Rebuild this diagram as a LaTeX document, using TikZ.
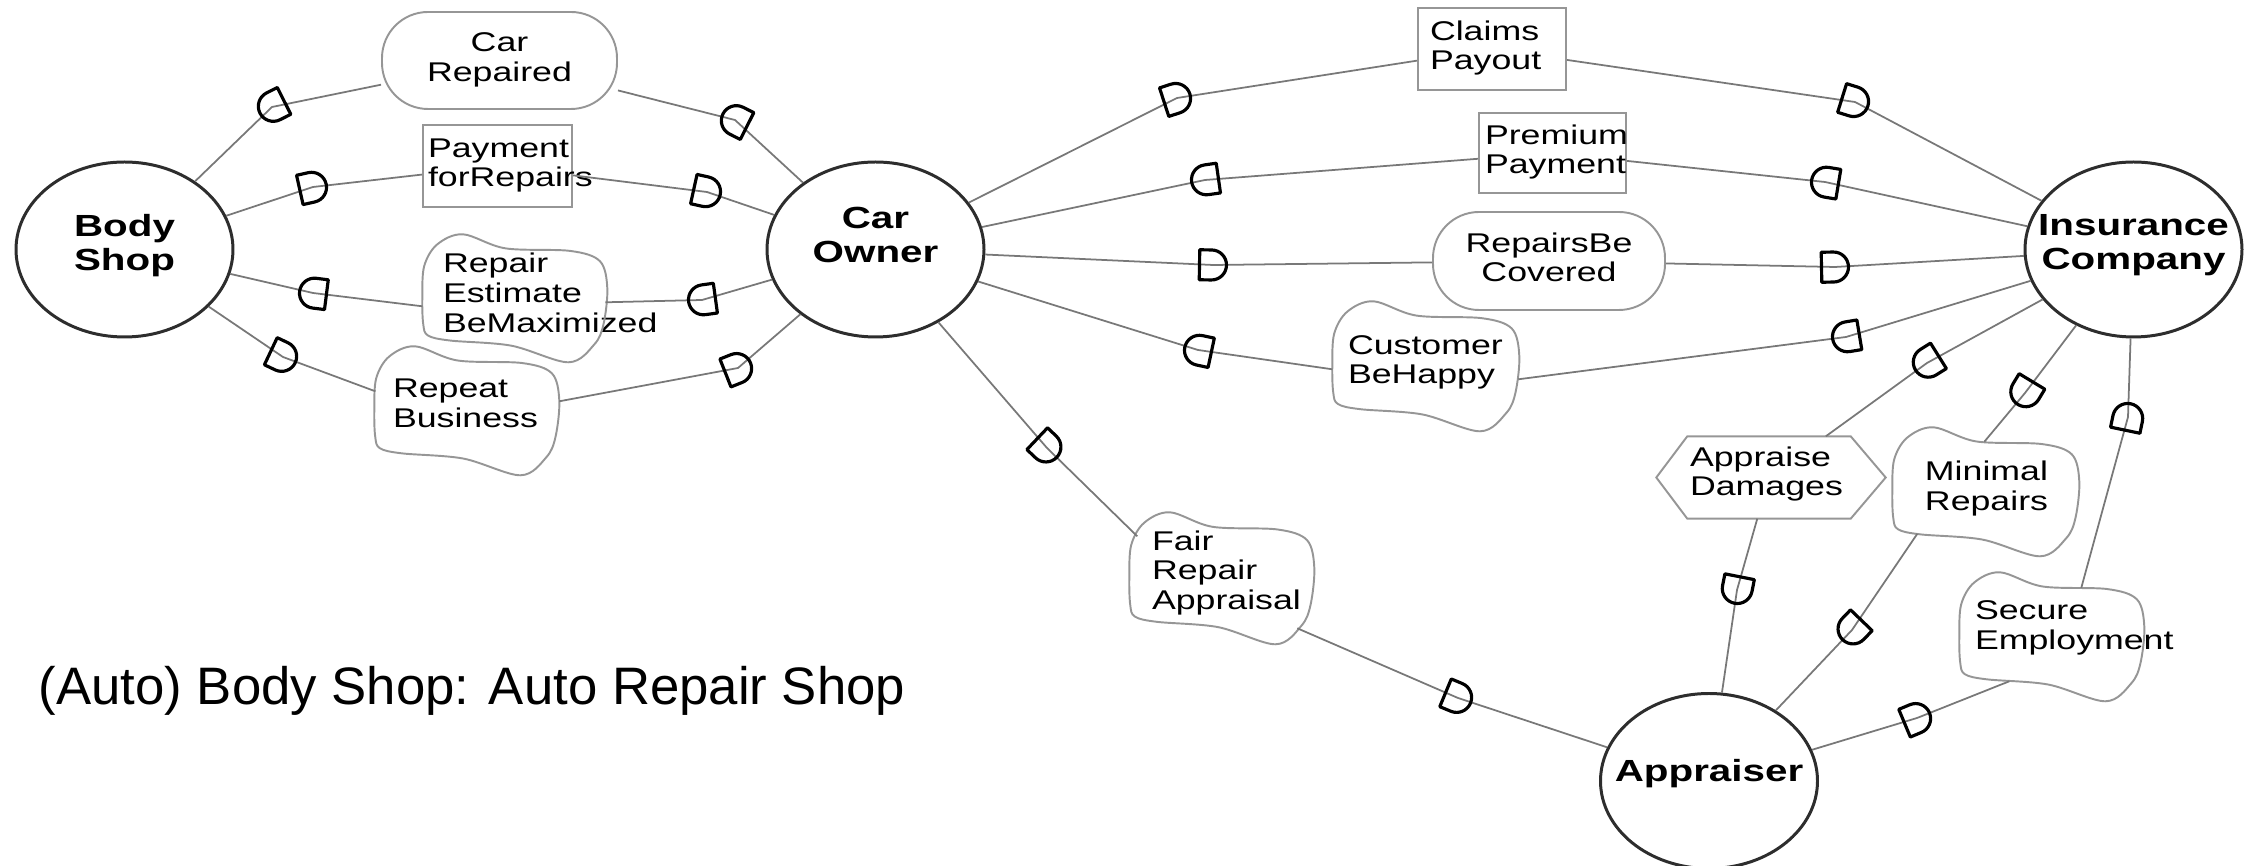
\documentclass[tikz,border=0pt]{standalone}
\usepackage{fontspec}
\usetikzlibrary{calc,shapes.geometric}

\newfontfamily\diagfamily[FakeStretch=1.32]{Liberation Sans}
\newfontfamily\titlefamily{Liberation Sans}
\newcommand\depfont{\diagfamily\fontsize{7.7pt}{8.5pt}\selectfont}
\newcommand\actorfont{\diagfamily\bfseries\fontsize{8.7pt}{9.7pt}\selectfont}
\newcommand\titlefont{\titlefamily\fontsize{15pt}{18pt}\selectfont}

\definecolor{linkgray}{RGB}{120,120,120}
\definecolor{outlinegray}{RGB}{150,150,150}
\definecolor{actorgray}{RGB}{45,45,45}

% centred lines; the optional extra depth lifts the text inside its shape
\newcommand\clines[2][0pt]{\begin{tabular}{@{}c@{}}#2\\[#1]\end{tabular}}
% centred lines that do not widen the shape around them
\newcommand\alines[2][0pt]{\makebox[0pt]{\clines[#1]{#2}}}
% left-aligned lines in a box of fixed width (longer lines run past it)
\newcommand\llines[3][0pt]{\makebox[#2][l]{\begin{tabular}{@{}l@{}}#3\\[#1]\end{tabular}}}

% dependency mark: a D on the link at #1, its round side facing from #2 towards #3
\newcommand\depmark[3]{%
  \pgfmathanglebetweenpoints{\pgfpointanchor{#2}{center}}{\pgfpointanchor{#3}{center}}%
  \let\markangle\pgfmathresult
  \draw[dmark, shift={(#1)}, rotate=\markangle]
    (-1.35mm,-1.5mm) -- (-0.15mm,-1.5mm) arc[start angle=-90, end angle=90, radius=1.5mm]
    -- (-1.35mm,1.5mm) -- cycle;}

% wavy softgoal outline around node #1 of width #2 and height #3 (in px)
\newcommand\softgoalline[3]{%
  \draw[softline, shift={(#1.north west)}, xscale=#2, yscale=#3]
    plot[smooth cycle, tension=0.55] coordinates {(0,0.50) (0.01,0.25) (0.08,0.08)
      (0.22,0) (0.45,0.11) (0.80,0.13) (0.96,0.21) (1,0.42) (0.98,0.70) (0.93,0.86)
      (0.79,1) (0.48,0.87) (0.15,0.83) (0.03,0.79) (0.005,0.70)};}

\tikzset{
  actor/.style={ellipse, draw=actorgray, line width=0.85pt, minimum width=21.7mm,
    minimum height=17.5mm, inner sep=0pt, font=\actorfont},
  dependum/.style={rectangle, inner sep=0pt, font=\depfont},
  resource/.style={dependum, draw=outlinegray, line width=0.55pt},
  goal/.style={dependum, draw=outlinegray, line width=0.55pt, rounded corners=4.6mm},
  softgoal/.style={dependum},
  task/.style={dependum},
  softline/.style={draw=outlinegray, line width=0.55pt},
  link/.style={draw=linkgray, line width=0.5pt},
  dmark/.style={draw=black, line width=0.9pt, line join=round},
}

\begin{document}
\begin{tikzpicture}[x=0.1mm, y=-0.1mm]
\useasboundingbox (0,0) rectangle (2257,866);

% actors
\node[actor] (bs) at (124.5,249.5) {\alines[0.5mm]{Body\\Shop}};
\node[actor] (co) at (875.5,249.5) {\alines[2.1mm]{Car\\Owner}};
\node[actor] (ic) at (2133.5,249.5) {\alines[0.7mm]{Insurance\\Company}};
\node[actor] (ap) at (1709,781) {\alines[1.2mm]{Appraiser}};

% dependums
\node[goal, minimum width=23.5mm, minimum height=9.7mm] (cr) at (499.5,60.5) {\clines{Car\\Repaired}};
\node[resource, minimum width=14.9mm, minimum height=8.2mm] (pay) at (497.5,166) {\llines{13.9mm}{Payment\\forRepairs}};
\node[softgoal, minimum width=18.5mm, minimum height=12.8mm] (re) at (515.5,299) {\llines[0.5mm]{14.5mm}{Repair\\Estimate\\BeMaximized}};
\node[softgoal, minimum width=18.5mm, minimum height=12.9mm] (rb) at (467.5,411.5) {\llines[1mm]{14.9mm}{Repeat\\Business}};
\node[resource, minimum width=14.8mm, minimum height=8.2mm] (cp) at (1492,49) {\llines{12.4mm}{Claims\\Payout}};
\node[resource, minimum width=14.7mm, minimum height=8mm] (pp) at (1552.5,153) {\llines{13.5mm}{Premium\\Payment}};
\node[goal, minimum width=23.2mm, minimum height=9.8mm] (rbc) at (1549,261) {\clines{RepairsBe\\Covered}};
\node[softgoal, minimum width=18.7mm, minimum height=13mm] (cbh) at (1426.5,367) {\llines[0.8mm]{15.7mm}{Customer\\BeHappy}};
\node[softgoal, minimum width=18.5mm, minimum height=13.2mm] (fra) at (1222.5,579) {\llines[1mm]{14.1mm}{Fair\\Repair\\Appraisal}};
\node[task, minimum width=16.2mm, minimum height=8.1mm] (ad) at (1769,477.5) {\llines[0.5mm]{15.8mm}{Appraise\\Damages}};
\node[softgoal, minimum width=18.7mm, minimum height=12.9mm] (mr) at (1986.5,492.5) {\clines[0.6mm]{Minimal\\Repairs}};
\node[softgoal, minimum width=18.5mm, minimum height=12.9mm] (se) at (2052.5,637.5) {\llines[1.8mm]{15.5mm}{Secure\\Employment}};

% softgoal and task outlines
\softgoalline{re}{185}{128}
\softgoalline{rb}{185}{129}
\softgoalline{cbh}{187}{130}
\softgoalline{fra}{185}{132}
\softgoalline{mr}{187}{129}
\softgoalline{se}{185}{129}
\draw[softline] (ad.north west) -- (ad.north east) -- ([xshift=3.5mm]ad.east)
  -- (ad.south east) -- (ad.south west) -- ([xshift=-3.1mm]ad.west) -- cycle;

% where links meet the softgoal outlines
\coordinate (re-w) at ($(re.north west)+(0,72)$);
\coordinate (re-e) at ($(re.north west)+(183,68)$);
\coordinate (rb-w) at ($(rb.north west)+(1,45)$);
\coordinate (rb-e) at ($(rb.north west)+(185,55)$);
\coordinate (cbh-w) at ($(cbh.north west)+(0,68)$);
\coordinate (cbh-e) at ($(cbh.north west)+(186,78)$);
\coordinate (fra-nw) at ($(fra.north west)+(8,24)$);
\coordinate (fra-se) at ($(fra.north west)+(168,116)$);
\coordinate (mr-n) at ($(mr.north west)+(92,14.5)$);
\coordinate (mr-s) at ($(mr.north west)+(25,106.5)$);
\coordinate (se-n) at ($(se.north west)+(122,15.5)$);
\coordinate (se-sw) at ($(se.north west)+(50,109)$);

% positions of the dependency marks
\coordinate (m1a) at (735,120);   \coordinate (m1b) at (272,107);
\coordinate (m2a) at (313,187);   \coordinate (m2b) at (707,192);
\coordinate (m3a) at (702,300);   \coordinate (m3b) at (313,293);
\coordinate (m4a) at (283,357);   \coordinate (m4b) at (738,368);
\coordinate (m5a) at (1177,98);   \coordinate (m5b) at (1855,102);
\coordinate (m6a) at (1825,182);  \coordinate (m6b) at (1205,180);
\coordinate (m7a) at (1213,265);  \coordinate (m7b) at (1835,267);
\coordinate (m8a) at (1846,337);  \coordinate (m8b) at (1198,350);
\coordinate (m9a) at (1047,448);  \coordinate (m9b) at (1458,698);
\coordinate (m10a) at (1927,363); \coordinate (m10b) at (1737,590);
\coordinate (m11a) at (2025,393); \coordinate (m11b) at (1852,630);
\coordinate (m12a) at (1917,718); \coordinate (m12b) at (2128,417);

% dependency links: depender -- D -- dependum -- D -- dependee
\draw[link] (co) -- (m1a) -- (cr);      \draw[link] (cr) -- (m1b) -- (bs);
\draw[link] (bs) -- (m2a) -- (pay);     \draw[link] (pay) -- (m2b) -- (co);
\draw[link] (co) -- (m3a) -- (re-e);    \draw[link] (re-w) -- (m3b) -- (bs);
\draw[link] (bs) -- (m4a) -- (rb-w);    \draw[link] (rb-e) -- (m4b) -- (co);
\draw[link] (co) -- (m5a) -- (cp);      \draw[link] (cp) -- (m5b) -- (ic);
\draw[link] (ic) -- (m6a) -- (pp);      \draw[link] (pp) -- (m6b) -- (co);
\draw[link] (co) -- (m7a) -- (rbc);     \draw[link] (rbc) -- (m7b) -- (ic);
\draw[link] (ic) -- (m8a) -- (cbh-e);   \draw[link] (cbh-w) -- (m8b) -- (co);
\draw[link] (co) -- (m9a) -- (fra-nw);  \draw[link] (fra-se) -- (m9b) -- (ap);
\draw[link] (ic) -- (m10a) -- (ad);     \draw[link] (ad) -- (m10b) -- (ap);
\draw[link] (ic) -- (m11a) -- (mr-n);   \draw[link] (mr-s) -- (m11b) -- (ap);
\draw[link] (ap) -- (m12a) -- (se-sw);  \draw[link] (se-n) -- (m12b) -- (ic);

\depmark{m1a}{co}{cr}    \depmark{m1b}{cr}{bs}
\depmark{m2a}{bs}{pay}   \depmark{m2b}{pay}{co}
\depmark{m3a}{co}{re}    \depmark{m3b}{re}{bs}
\depmark{m4a}{bs}{rb}    \depmark{m4b}{rb}{co}
\depmark{m5a}{co}{cp}    \depmark{m5b}{cp}{ic}
\depmark{m6a}{ic}{pp}    \depmark{m6b}{pp}{co}
\depmark{m7a}{co}{rbc}   \depmark{m7b}{rbc}{ic}
\depmark{m8a}{ic}{cbh}   \depmark{m8b}{cbh}{co}
\depmark{m9a}{co}{fra}   \depmark{m9b}{fra}{ap}
\depmark{m10a}{ic}{ad}   \depmark{m10b}{ad}{ap}
\depmark{m11a}{ic}{mr}   \depmark{m11b}{mr}{ap}
\depmark{m12a}{ap}{se}   \depmark{m12b}{se}{ic}

% caption
\node[anchor=base west, inner sep=0pt, font=\titlefont] (title) at (38,705)
  {(Auto) Body Shop: Auto Repair Shop};
\end{tikzpicture}
\end{document}
